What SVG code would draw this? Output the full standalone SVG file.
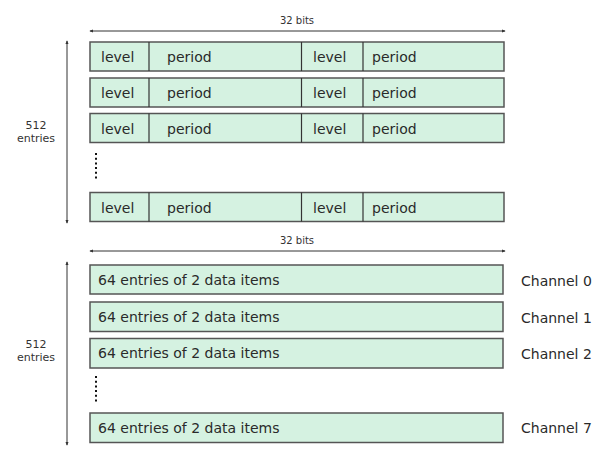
<svg xmlns="http://www.w3.org/2000/svg" width="607" height="460" viewBox="0 0 607 460">
<style>
.box{fill:#d5f2e1;stroke:#555;stroke-width:1.5}
.div{stroke:#333;stroke-width:1.2}
.t{font-family:"DejaVu Sans",sans-serif;font-size:14px;fill:#2a2a2a}
.s{font-family:"DejaVu Sans",sans-serif;font-size:10px;fill:#333}
.e{font-family:"DejaVu Sans",sans-serif;font-size:11px;fill:#333}
.ax{stroke:#333;stroke-width:1;fill:none}
.dots{stroke:#111;stroke-width:2;stroke-dasharray:2 2.7}
</style>
<defs>
<marker id="ah" viewBox="0 0 6 6" refX="5" refY="3" markerWidth="4" markerHeight="4" orient="auto-start-reverse">
<path d="M0,0.5 L6,3 L0,5.5 z" fill="#333"/>
</marker>
</defs>
<rect width="607" height="460" fill="#fff"/>
<g id="connectors">
<line class="ax" x1="90" y1="31" x2="505" y2="31" marker-start="url(#ah)" marker-end="url(#ah)"/>
<line class="ax" x1="67" y1="41" x2="67" y2="223" marker-start="url(#ah)" marker-end="url(#ah)"/>
<line class="ax" x1="90" y1="251" x2="505" y2="251" marker-start="url(#ah)" marker-end="url(#ah)"/>
<line class="ax" x1="67" y1="262" x2="67" y2="445" marker-start="url(#ah)" marker-end="url(#ah)"/>
<line class="dots" x1="96" y1="153" x2="96" y2="181"/>
<line class="dots" x1="96" y1="376" x2="96" y2="404"/>
</g>
<g id="labels">
<text class="s" x="297" y="24" text-anchor="middle">32 bits</text>
<text class="e" x="36" y="129" text-anchor="middle">512</text>
<text class="e" x="36" y="142" text-anchor="middle">entries</text>
<text class="s" x="297" y="244" text-anchor="middle">32 bits</text>
<text class="e" x="36" y="348" text-anchor="middle">512</text>
<text class="e" x="36" y="361" text-anchor="middle">entries</text>
</g>
<g id="row1">
<rect class="box" x="90" y="42" width="414" height="29"/>
<line class="div" x1="149" y1="42" x2="149" y2="71"/><line class="div" x1="301.5" y1="42" x2="301.5" y2="71"/><line class="div" x1="363" y1="42" x2="363" y2="71"/>
<text class="t" x="101" y="62">level</text><text class="t" x="167" y="62">period</text><text class="t" x="313" y="62">level</text><text class="t" x="372" y="62">period</text>
</g>
<g id="row2">
<rect class="box" x="90" y="78" width="414" height="29"/>
<line class="div" x1="149" y1="78" x2="149" y2="107"/><line class="div" x1="301.5" y1="78" x2="301.5" y2="107"/><line class="div" x1="363" y1="78" x2="363" y2="107"/>
<text class="t" x="101" y="98">level</text><text class="t" x="167" y="98">period</text><text class="t" x="313" y="98">level</text><text class="t" x="372" y="98">period</text>
</g>
<g id="row3">
<rect class="box" x="90" y="113.5" width="414" height="29"/>
<line class="div" x1="149" y1="113.5" x2="149" y2="142.5"/><line class="div" x1="301.5" y1="113.5" x2="301.5" y2="142.5"/><line class="div" x1="363" y1="113.5" x2="363" y2="142.5"/>
<text class="t" x="101" y="133.5">level</text><text class="t" x="167" y="133.5">period</text><text class="t" x="313" y="133.5">level</text><text class="t" x="372" y="133.5">period</text>
</g>
<g id="row4">
<rect class="box" x="90" y="192.5" width="414" height="29"/>
<line class="div" x1="149" y1="192.5" x2="149" y2="221.5"/><line class="div" x1="301.5" y1="192.5" x2="301.5" y2="221.5"/><line class="div" x1="363" y1="192.5" x2="363" y2="221.5"/>
<text class="t" x="101" y="212.5">level</text><text class="t" x="167" y="212.5">period</text><text class="t" x="313" y="212.5">level</text><text class="t" x="372" y="212.5">period</text>
</g>
<g id="ch0">
<rect class="box" x="90" y="265" width="413" height="29"/>
<text class="t" x="98" y="284.5">64 entries of 2 data items</text>
<text class="t" x="521" y="286">Channel 0</text>
</g>
<g id="ch1">
<rect class="box" x="90" y="302" width="413" height="29.5"/>
<text class="t" x="98" y="321.5">64 entries of 2 data items</text>
<text class="t" x="521" y="322.5">Channel 1</text>
</g>
<g id="ch2">
<rect class="box" x="90" y="338.5" width="413" height="29.5"/>
<text class="t" x="98" y="358">64 entries of 2 data items</text>
<text class="t" x="521" y="359">Channel 2</text>
</g>
<g id="ch7">
<rect class="box" x="90" y="413" width="413" height="29.5"/>
<text class="t" x="98" y="432.5">64 entries of 2 data items</text>
<text class="t" x="521" y="433">Channel 7</text>
</g>
</svg>
